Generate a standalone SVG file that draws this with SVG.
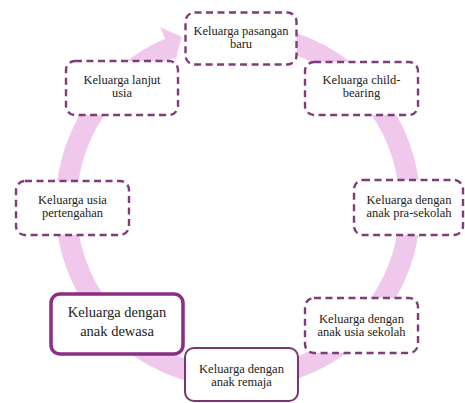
<svg xmlns="http://www.w3.org/2000/svg" width="465" height="403" viewBox="0 0 465 403">
<style>
.dash{fill:#fff;stroke:#7f3b7a;stroke-width:2.4;stroke-dasharray:7 4.5}
.solid{fill:#fff;stroke:#7a3572;stroke-width:2}
.bold{fill:#fff;stroke:#8b2d87;stroke-width:3.5}
text{font-family:"Liberation Serif","Times New Roman",serif;font-size:12.5px;fill:#222;text-anchor:middle}
.big{font-size:14.5px}
</style>
<rect width="465" height="403" fill="#fff"/>
<g id="connectors">
<path d="M208.1,36.6 A172,172 0 1 1 173.6,46.5" fill="none" stroke="#efc8ec" stroke-width="21"/>
<polygon points="160,27 182,37 175,60" fill="#efc8ec"/>
</g>
<g id="n-pasangan"><rect class="dash" x="185.5" y="12.5" width="111" height="52" rx="9"/><text x="241" y="35">Keluarga pasangan</text><text x="241" y="48">baru</text></g>
<g id="n-lanjut"><rect class="dash" x="66" y="61" width="112" height="54" rx="9"/><text x="122" y="84">Keluarga lanjut</text><text x="122" y="97">usia</text></g>
<g id="n-child"><rect class="dash" x="305" y="62" width="113" height="53" rx="9"/><text x="361.5" y="84">Keluarga child-</text><text x="361.5" y="97">bearing</text></g>
<g id="n-pertengahan"><rect class="dash" x="16" y="181" width="113" height="54" rx="9"/><text x="72.5" y="203.5">Keluarga usia</text><text x="72.5" y="216.5">pertengahan</text></g>
<g id="n-prasekolah"><rect class="dash" x="354" y="180" width="109" height="55" rx="9"/><text x="409" y="203.5">Keluarga dengan</text><text x="409" y="216.5">anak pra-sekolah</text></g>
<g id="n-dewasa"><rect class="bold" x="51" y="294" width="132" height="60" rx="9"/><text class="big" x="117" y="317">Keluarga dengan</text><text class="big" x="117" y="336">anak dewasa</text></g>
<g id="n-sekolah"><rect class="dash" x="305" y="298" width="113" height="55" rx="9"/><text x="361.5" y="323">Keluarga dengan</text><text x="361.5" y="336">anak usia sekolah</text></g>
<g id="n-remaja"><rect class="solid" x="185" y="348" width="113" height="53" rx="9"/><text x="241.5" y="373">Keluarga dengan</text><text x="241.5" y="386">anak remaja</text></g>
</svg>
